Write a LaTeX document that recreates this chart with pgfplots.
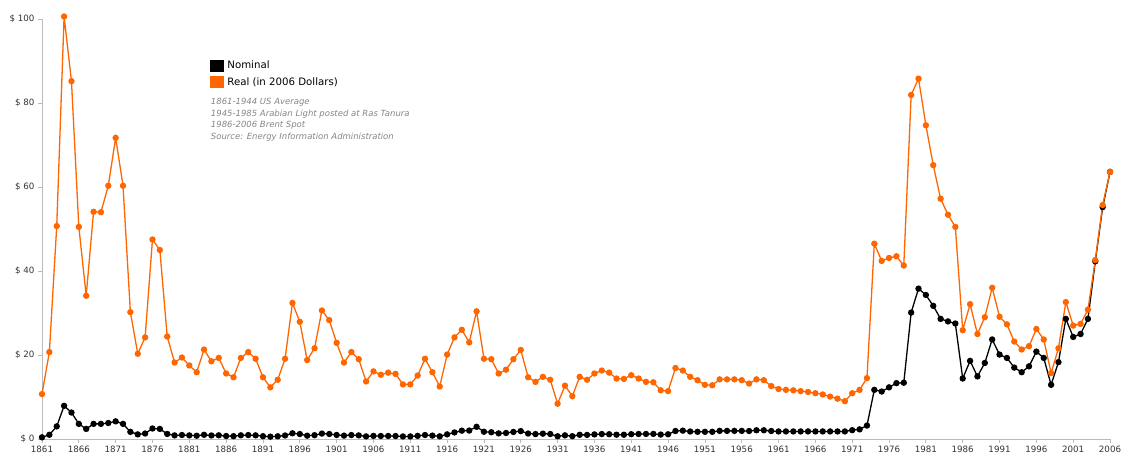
\documentclass[border=0pt]{standalone}
\usepackage{fontspec}
\setmainfont{DejaVu Sans}
\usepackage{pgfplots}
\usepackage{pgfplotstable}
\pgfplotsset{compat=1.18}
\definecolor{oilorange}{HTML}{FF6600}
\definecolor{axisgray}{HTML}{BBBBBB}
\definecolor{labelgray}{HTML}{333333}
\definecolor{notegray}{HTML}{858585}
\pgfplotstableread{
year nominal real
1861 0.4 10.7
1862 1.0 20.7
1863 3.0 50.7
1864 7.9 100.6
1865 6.3 85.2
1866 3.6 50.5
1867 2.4 34.1
1868 3.6 54.1
1869 3.6 54.0
1870 3.8 60.3
1871 4.2 71.7
1872 3.6 60.3
1873 1.7 30.2
1874 1.1 20.3
1875 1.3 24.2
1876 2.5 47.5
1877 2.4 45.0
1878 1.2 24.4
1879 0.86 18.2
1880 0.95 19.4
1881 0.86 17.5
1882 0.78 15.9
1883 1.00 21.3
1884 0.84 18.5
1885 0.88 19.3
1886 0.71 15.6
1887 0.67 14.7
1888 0.88 19.3
1889 0.94 20.7
1890 0.87 19.1
1891 0.67 14.7
1892 0.56 12.3
1893 0.64 14.1
1894 0.84 19.1
1895 1.36 32.4
1896 1.18 27.9
1897 0.79 18.8
1898 0.91 21.6
1899 1.29 30.6
1900 1.19 28.3
1901 0.96 22.9
1902 0.80 18.2
1903 0.94 20.7
1904 0.86 19.0
1905 0.62 13.7
1906 0.73 16.1
1907 0.72 15.3
1908 0.72 15.8
1909 0.70 15.5
1910 0.61 13.0
1911 0.61 13.0
1912 0.74 15.1
1913 0.95 19.1
1914 0.81 15.9
1915 0.64 12.5
1916 1.10 20.1
1917 1.56 24.2
1918 1.98 26.0
1919 2.01 23.0
1920 2.9 30.4
1921 1.73 19.1
1922 1.61 19.0
1923 1.34 15.6
1924 1.43 16.5
1925 1.68 19.0
1926 1.88 21.2
1927 1.30 14.7
1928 1.17 13.6
1929 1.27 14.8
1930 1.19 14.1
1931 0.65 8.4
1932 0.87 12.7
1933 0.67 10.2
1934 1.00 14.8
1935 0.97 14.1
1936 1.09 15.6
1937 1.18 16.3
1938 1.13 15.8
1939 1.02 14.4
1940 1.02 14.3
1941 1.14 15.2
1942 1.19 14.4
1943 1.20 13.6
1944 1.21 13.5
1945 1.05 11.6
1946 1.12 11.4
1947 1.90 16.9
1948 1.99 16.3
1949 1.78 14.8
1950 1.71 14.0
1951 1.71 12.9
1952 1.71 12.8
1953 1.93 14.2
1954 1.93 14.2
1955 1.93 14.2
1956 1.93 14.0
1957 1.90 13.2
1958 2.08 14.2
1959 2.08 14.0
1960 1.90 12.6
1961 1.80 11.9
1962 1.80 11.7
1963 1.80 11.6
1964 1.80 11.4
1965 1.80 11.2
1966 1.80 10.9
1967 1.80 10.6
1968 1.80 10.1
1969 1.80 9.6
1970 1.80 9.0
1971 2.1 10.9
1972 2.3 11.7
1973 3.2 14.5
1974 11.7 46.5
1975 11.3 42.4
1976 12.3 43.1
1977 13.3 43.5
1978 13.4 41.3
1979 30.1 81.9
1980 35.8 85.8
1981 34.3 74.7
1982 31.7 65.2
1983 28.6 57.2
1984 28.0 53.4
1985 27.5 50.5
1986 14.4 25.9
1987 18.6 32.1
1988 14.9 25.0
1989 18.1 29.0
1990 23.7 36.0
1991 20.1 29.1
1992 19.3 27.3
1993 17.0 23.2
1994 15.9 21.3
1995 17.3 22.1
1996 20.8 26.2
1997 19.3 23.7
1998 12.9 15.7
1999 18.3 21.6
2000 28.6 32.6
2001 24.3 27.0
2002 25.0 27.4
2003 28.6 30.8
2004 42.3 42.6
2005 55.2 55.7
2006 63.6 63.6
}\oildata

\begin{document}
\begin{tikzpicture}
\path[use as bounding box] (0,0) rectangle (1123pt,457pt);
\begin{axis}[
  at={(42pt,18pt)}, anchor=south west,
  scale only axis, width=1068pt, height=420pt,
  xmin=1861, xmax=2006, ymin=0, ymax=100,
  axis x line*=bottom, axis y line*=left,
  axis line style={axisgray, line width=0.8pt},
  xtick={1861,1866,...,2006},
  ytick={0,20,...,100},
  yticklabels={{\$ 0},{\$ 20},{\$ 40},{\$ 60},{\$ 80},{\$ 100}},
  /pgf/number format/1000 sep={},
  /pgf/number format/assume math mode=true,
  tick align=outside, major tick length=4pt,
  tick style={axisgray, line width=0.8pt},
  tick label style={font=\fontsize{8.7}{10}\selectfont, text=labelgray},
  clip=false,
  legend cell align=left,
  legend style={at={(axis description cs:0.1575,0.905)}, anchor=north west,
    draw=none, fill=none, inner sep=0pt, row sep=3pt, column sep=2pt,
    font=\fontsize{10.2}{12}\selectfont, text=black},
]
\addplot[black, line width=1.3pt, mark=*, mark size=2.5pt, mark options={solid, fill=black}, forget plot]
  table[x=year, y=nominal]{\oildata};
\addplot[oilorange, line width=1.3pt, mark=*, mark size=2.5pt, mark options={solid, fill=oilorange}, forget plot]
  table[x=year, y=real]{\oildata};
\addlegendimage{legend image code/.code={\fill[black] (0pt,-5.3pt) rectangle (12.6pt,5.3pt);}}
\addlegendentry{Nominal}
\addlegendimage{legend image code/.code={\fill[oilorange] (0pt,-5.3pt) rectangle (12.6pt,5.3pt);}}
\addlegendentry{Real (in 2006 Dollars)}
\node[anchor=north west, align=left, inner sep=0pt, text=notegray,
      font=\fontsize{8.5}{11.7}\selectfont\itshape]
  at (axis description cs:0.158,0.812)
  {1861-1944 US Average\\1945-1985 Arabian Light posted at Ras Tanura\\1986-2006 Brent Spot\\Source: Energy Information Administration};
\end{axis}
\end{tikzpicture}
\end{document}
